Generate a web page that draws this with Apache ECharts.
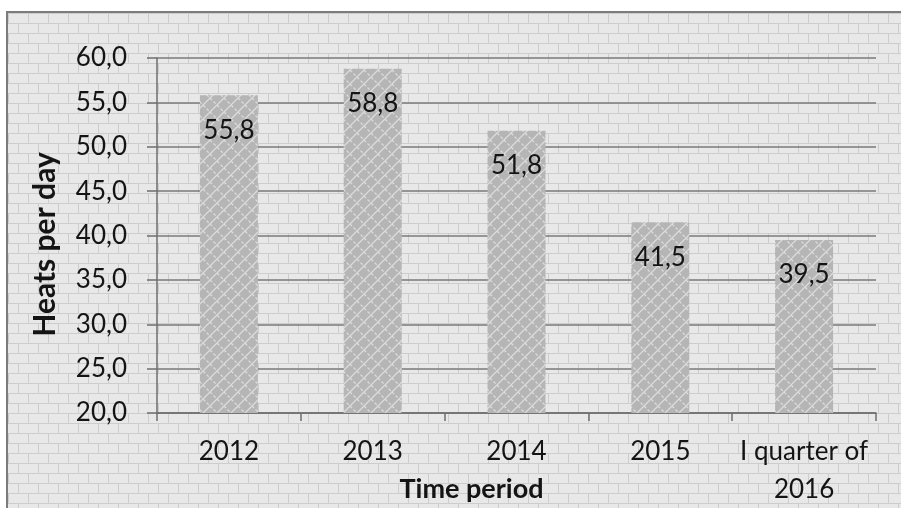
<!DOCTYPE html>
<html>
<head>
<meta charset="utf-8">
<script src="https://cdn.jsdelivr.net/npm/echarts@6/dist/echarts.min.js"></script>
<style>
  html, body { margin: 0; padding: 0; background: #ffffff; }
  #wrap { position: relative; width: 901px; height: 508px; overflow: hidden; }
  #bg { position: absolute; left: 6px; top: 11px; right: -4px; bottom: -4px;
        border-top: 2px solid #7c7c7c; border-left: 2px solid #7c7c7c; }
  #chart { position: absolute; left: 0; top: 0; width: 901px; height: 508px; }
</style>
</head>
<body>
<div id="wrap">
  <div id="bg"></div>
  <div id="chart"></div>
</div>
<script>
// Heats per day by time period
const categories = ['2012', '2013', '2014', '2015', 'I quarter of\n2016'];
const heatsPerDay = [55.8, 58.8, 51.8, 41.5, 39.5];
const yMin = 20, yMax = 60, yStep = 5;

// brick-wall backdrop tile
function brickTile() {
  const c = document.createElement('canvas');
  c.width = 40; c.height = 20;
  const g = c.getContext('2d');
  g.fillStyle = '#e8e8e8';
  g.fillRect(0, 0, 40, 20);
  g.strokeStyle = '#cdcdcd';
  g.lineWidth = 1;
  g.beginPath();
  g.moveTo(0, 0.5); g.lineTo(40, 0.5);
  g.moveTo(0, 10.5); g.lineTo(40, 10.5);
  g.moveTo(0.5, 0); g.lineTo(0.5, 10);
  g.moveTo(20.5, 0); g.lineTo(20.5, 10);
  g.moveTo(10.5, 10); g.lineTo(10.5, 20);
  g.moveTo(30.5, 10); g.lineTo(30.5, 20);
  g.stroke();
  return c;
}
document.getElementById('bg').style.background =
  'url(' + brickTile().toDataURL() + ') repeat';

// diamond hatch fill for the bars
function hatchTile() {
  const s = 14;
  const c = document.createElement('canvas');
  c.width = s; c.height = s;
  const g = c.getContext('2d');
  g.fillStyle = '#b5b5b5';
  g.fillRect(0, 0, s, s);
  g.strokeStyle = '#dcdcdc';
  g.lineWidth = 1.3;
  g.beginPath();
  g.moveTo(0, s); g.lineTo(s, 0);
  g.moveTo(-1, 1); g.lineTo(1, -1);
  g.moveTo(s - 1, s + 1); g.lineTo(s + 1, s - 1);
  g.stroke();
  g.setLineDash([3, 2]);
  g.beginPath();
  g.moveTo(0, 0); g.lineTo(s, s);
  g.stroke();
  return c;
}

const font = 'Lato, "Open Sans", sans-serif';
const textColor = '#141414';
const chart = echarts.init(document.getElementById('chart'), null, { renderer: 'canvas' });
chart.setOption({
  backgroundColor: 'transparent',
  animation: false,
  grid: { left: 157, right: 25, top: 58, bottom: 95, containLabel: false, outerBoundsMode: 'none' },
  xAxis: {
    type: 'category',
    data: categories,
    name: 'Time period',
    nameLocation: 'middle',
    nameGap: 63,
    nameMoveOverlap: false,
    nameTextStyle: { fontFamily: font, fontSize: 27, fontWeight: 'bold', color: textColor, padding: [0, 90, 0, 0] },
    axisLine: { lineStyle: { color: '#6e6e6e', width: 1.5 } },
    axisTick: { show: true, length: 8, lineStyle: { color: '#6e6e6e', width: 1.5 } },
    axisLabel: { interval: 0, fontFamily: font, fontSize: 26, color: textColor, margin: 20, lineHeight: 38 }
  },
  yAxis: {
    type: 'value',
    min: yMin, max: yMax, interval: yStep,
    name: 'Heats per day',
    nameLocation: 'middle',
    nameGap: 97,
    nameMoveOverlap: false,
    nameTextStyle: { fontFamily: font, fontSize: 30, fontWeight: 'bold', color: textColor, padding: [0, 18, 0, 0] },
    axisLine: { show: true, lineStyle: { color: '#6e6e6e', width: 1.5 } },
    axisTick: { show: true, length: 10, lineStyle: { color: '#6e6e6e', width: 1.5 } },
    axisLabel: {
      fontFamily: font, fontSize: 26, color: textColor, margin: 30,
      formatter: v => v.toFixed(1).replace('.', ',')
    },
    splitLine: { lineStyle: { color: '#7a7a7a', width: 1.5 } }
  },
  series: [{
    type: 'bar',
    data: heatsPerDay,
    barWidth: 58,
    itemStyle: { color: { image: hatchTile(), repeat: 'repeat' } },
    label: {
      show: true,
      position: 'insideTop',
      distance: 22,
      fontFamily: font, fontSize: 26, color: textColor,
      formatter: p => p.value.toFixed(1).replace('.', ',')
    }
  }]
});
</script>
</body>
</html>
